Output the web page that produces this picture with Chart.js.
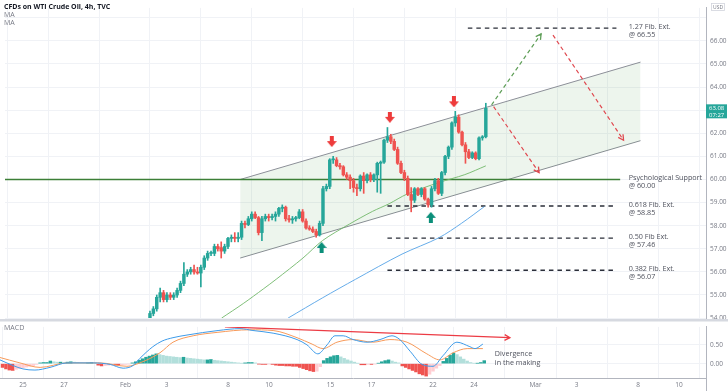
<!DOCTYPE html>
<html>
<head>
<meta charset="utf-8">
<script src="https://cdn.jsdelivr.net/npm/chart.js@4.4.0/dist/chart.umd.min.js"></script>
<style>
  html, body { margin: 0; padding: 0; background: #fff; }
  #wrap { position: relative; width: 728px; height: 391px; overflow: hidden; background: #fff; }
  #priceChart { position: absolute; left: 0; top: 0; }
  #macdChart { position: absolute; left: 0; top: 319px; }
</style>
</head>
<body>
<div id="wrap">
  <canvas id="priceChart" width="728" height="326"></canvas>
  <canvas id="macdChart" width="728" height="72"></canvas>
</div>
<script>
// ===== DATA =====
// x axis is counted in 4h bars, 6 bars per trading day, bar 0 = Jan 25
const barsPerDay = 6;
const dayTicks  = [0, 2, 5, 7, 10, 12, 15, 17, 20, 22, 25, 27, 30, 32];
const dayLabels = ['25', '27', 'Feb', '3', '8', '10', '15', '17', '22', '24', 'Mar', '3', '8', '10'];

const priceTicks = [54, 55, 56, 57, 58, 59, 60, 61, 62, 63, 64, 65, 66, 67];
const macdTicks = [0, 0.5];

// candles, first one is bar 36
const firstBar = 36;
const candleOpen = [53.9,54.2,54.4,54.9,55.1,54.8,55.0,54.9,55.0,55.2,55.5,55.9,56.0,56.1,56.0,55.95,56.2,56.6,56.8,56.8,
  57.1,57.05,56.9,57.1,57.45,57.5,57.45,57.5,58.1,58.05,58.3,58.5,58.35,57.7,58.3,58.4,58.35,58.4,58.5,58.75,
  58.8,58.3,58.25,58.3,58.35,58.6,58.2,57.9,57.85,57.75,57.6,58.1,59.6,59.7,60.85,60.85,60.6,60.55,60.2,60.1,
  59.95,59.65,59.6,60.15,59.95,60.2,60.0,60.2,60.7,60.75,61.7,61.85,61.65,61.3,60.7,60.3,60.05,59.35,59.1,59.6,
  59.35,59.6,59.15,58.9,59.6,59.95,59.4,60.3,61.0,61.4,62.45,62.7,62.05,61.5,61.2,60.95,61.15,60.9,61.8,61.85];
const candleHigh = [54.3,54.5,55.0,55.3,55.2,55.1,55.1,55.1,55.3,55.6,56.4,56.1,56.2,56.3,56.2,56.3,56.7,56.9,56.9,57.2,
  57.2,57.3,57.2,57.5,57.6,57.7,57.7,58.2,58.2,58.4,58.6,58.6,58.4,58.4,58.5,58.5,58.5,58.6,58.8,58.9,
  58.85,58.45,58.4,58.4,58.7,58.7,58.3,58.0,57.95,57.85,58.2,59.7,59.8,60.9,61.0,60.95,60.7,60.6,60.3,60.2,
  60.05,59.8,60.2,60.3,60.25,60.3,60.25,60.75,60.8,61.75,62.25,61.95,61.75,61.4,60.8,60.4,60.15,59.65,59.65,59.65,
  59.65,59.65,59.2,59.7,60.05,60.05,60.35,61.05,61.45,62.5,62.95,62.8,62.1,61.6,61.3,61.2,61.2,61.85,61.9,63.3];
const candleLow = [53.8,54.1,54.3,54.7,54.7,54.7,54.8,54.8,54.9,55.1,55.4,55.8,55.9,55.9,55.9,55.35,56.1,56.5,56.7,56.7,
  56.9,56.6,56.8,57.0,57.3,57.3,57.3,57.4,57.9,58.0,58.2,58.3,57.6,57.35,58.2,58.2,58.25,58.2,58.4,58.6,
  58.2,58.15,58.1,58.2,58.3,58.15,57.85,57.8,57.7,57.5,57.55,58.0,59.5,59.6,60.7,60.55,60.45,60.15,60.0,59.6,
  59.45,59.3,59.5,59.4,59.85,59.9,59.9,59.45,59.4,60.7,61.6,61.55,61.25,60.65,60.25,59.95,59.3,58.6,59.0,59.3,
  59.25,59.1,58.8,58.8,59.5,59.35,59.3,60.2,60.9,61.3,62.3,62.0,61.45,60.7,60.9,60.9,60.85,60.85,61.7,61.8];
const candleClose = [54.2,54.4,54.9,55.1,54.8,55.0,54.9,55.0,55.2,55.5,55.9,56.0,56.1,56.0,55.95,56.2,56.6,56.8,56.8,57.1,
  57.0,56.9,57.1,57.45,57.5,57.45,57.5,58.1,58.05,58.3,58.5,58.35,57.7,58.3,58.4,58.35,58.4,58.5,58.75,58.8,
  58.3,58.25,58.3,58.35,58.6,58.2,57.9,57.85,57.75,57.6,58.1,59.6,59.7,60.85,60.85,60.6,60.55,60.2,60.1,59.95,
  59.65,59.6,60.15,59.95,60.2,60.0,60.2,60.7,60.75,61.7,61.85,61.65,61.3,60.7,60.3,60.05,59.35,59.1,59.6,59.35,
  59.6,59.15,58.9,59.6,59.95,59.4,60.3,61.0,61.4,62.45,62.7,62.05,61.5,61.2,60.95,61.15,60.9,61.8,61.85,63.08];
const lastPrice = 63.08;
const countdown = '07:27';

// moving averages
const maGreenBar = [57.1, 63.5, 69.4, 73.2, 81.1, 86.9, 94.8, 101.6, 106.5, 111.8, 121.2, 128.8, 135];
const maGreenVal = [54.0, 54.63, 55.26, 55.68, 56.6, 57.36, 58.07, 58.62, 58.95, 59.37, 59.87, 60.21, 60.59];
const maBlueBar = [76.7, 86.9, 96.6, 110.3, 121.2, 127.9, 134.6];
const maBlueVal = [54.0, 54.88, 55.68, 56.77, 57.48, 58.11, 58.83];

// channel
const chanBar = [62.6, 180.6];
const chanUpper = [60.0, 65.08];
const chanLower = [56.6, 61.68];

// levels
const levelPrice = [66.55, 60.00, 58.85, 57.46, 56.07];
const levelStart = [129.7, -7, 106, 106, 106];
const levelEnd = [173.5, 174.6, 173.5, 173.5, 173.5];
const levelText1 = ['1.27 Fib. Ext.', 'Psychological Support', '0.618 Fib. Ext.', '0.50 Fib Ext.', '0.382 Fib. Ext.'];
const levelText2 = ['@ 66.55', '@ 60.00', '@ 58.85', '@ 57.46', '@ 56.07'];
const labelBar = 177.1;

// projected path
const upPathBar = [136.7, 151.3];
const upPathVal = [63.23, 66.3];
const downPathBar = [154.8, 175.6];
const downPathVal = [66.25, 61.7];
const dropPathBar = [137.3, 150.7];
const dropPathVal = [63.15, 60.3];

// swing markers
const topMarkBar = [89.6, 106.7, 125.6];
const topMarkVal = [61.64, 62.69, 63.36];
const bottomMarkBar = [86.6, 118.8];
const bottomMarkVal = [57.06, 58.36];

// MACD (12,26,9)
const histFirstBar = -6;
const histValues = [-0.10,-0.14,-0.17,-0.18,-0.15,-0.13,-0.11,-0.09,-0.07,-0.05,-0.02,0.02,0.03,0.03,0.07,0.05,0.04,0.04,0.03,0.04,
  0.05,0.04,0.03,0.02,0.01,0.02,0.03,0.01,-0.04,-0.06,-0.05,-0.04,-0.03,-0.04,-0.04,-0.03,-0.02,-0.01,0.02,0.05,
  0.09,0.13,0.17,0.20,0.23,0.26,0.24,0.22,0.20,0.19,0.18,0.17,0.16,0.17,0.15,0.14,0.13,0.12,0.11,0.10,
  0.10,0.11,0.09,0.08,0.07,0.06,0.05,0.04,0.03,0.02,0.01,0.02,0.03,0.03,0.02,-0.01,-0.02,-0.02,-0.01,-0.02,
  -0.04,-0.05,-0.05,-0.06,-0.06,-0.07,-0.07,-0.10,-0.13,-0.16,-0.19,-0.21,-0.20,-0.08,0.08,0.14,0.18,0.21,0.22,0.18,
  0.14,0.10,0.07,0.04,0.01,-0.03,-0.03,-0.02,-0.02,-0.01,0.01,0.05,0.08,0.10,0.07,0.04,0.02,-0.06,-0.10,-0.14,
  -0.18,-0.22,-0.27,-0.30,-0.33,-0.28,-0.20,-0.12,-0.05,0.06,0.14,0.22,0.28,0.24,0.18,0.12,0.07,0.03,0.01,0.01,
  0.03,0.08];
const macdBar = [-7,-2.9,0,3.5,7.9,12.9,20.5,25.5,29.3,32.2,34.2,38,40.7,43.9,48,57.1,63.5,67.3,73.2,80.2,83.1,86.3,89,91.3,
  93.7,96.6,100.7,104.5,108,110.3,113.3,116.8,120,122.9,127,130.8,132.3,134.6];
const macdVal = [0.11,-0.05,-0.14,-0.17,-0.10,0.02,0.02,-0.02,-0.12,-0.05,0.14,0.45,0.60,0.69,0.76,0.88,0.93,0.88,0.81,0.64,0.50,0.26,0.50,0.74,
  0.74,0.64,0.57,0.64,0.74,0.64,0.33,-0.02,-0.07,0.21,0.57,0.45,0.40,0.52];
const signalBar = [-7,-0.9,5,12.9,22.5,30.4,34.2,40.1,43.9,49.8,56.8,66.4,73.2,80.2,84.6,87.8,91.9,96.6,102.4,107.4,112.4,118.2,122,125.9,130,134.6];
const signalVal = [0.17,0.02,-0.10,0.02,0.02,-0.07,0.02,0.29,0.57,0.74,0.83,0.90,0.88,0.69,0.52,0.40,0.57,0.64,0.57,0.64,0.57,0.26,0.10,0.29,0.40,0.40];

const divergenceBar = [59.1, 142.5];
const divergenceVal = [0.976, 0.69];
const divergenceText = ['Divergence', 'in the making'];

// ===== STYLE =====
const FONT = '"Open Sans", "DejaVu Sans", sans-serif';
const gridColor = '#f0f2f6';
const axisColor = '#b2b5be';
const textGray = '#787b86';
const upColor = '#26a69a';
const downColor = '#ef5350';
const pxPerBar = 20.5 / barsPerDay;
const xMin = -23 / pxPerBar;
const xMax = 683 / pxPerBar;
const pxPerDollar = 23.833;

Chart.defaults.font.family = FONT;

function pts(xs, ys) {
  return xs.map((x, i) => ({x: x, y: ys[i]}));
}

function xAxis(showLabels) {
  return {
    type: 'linear', min: xMin, max: xMax, offset: false,
    afterBuildTicks: s => { s.ticks = dayTicks.map(d => ({value: d * barsPerDay})); },
    ticks: {
      display: showLabels, autoSkip: false, maxRotation: 0, padding: 3,
      color: textGray, font: {size: 6.5},
      callback: (v, i) => dayLabels[i]
    },
    grid: {color: gridColor, drawTicks: false},
    border: {display: showLabels, color: axisColor},
    afterFit: s => { s.height = showLabels ? 13 : 0; }
  };
}

function yAxis(min, max, tickValues, hideAbove) {
  return {
    position: 'right', min: min, max: max,
    afterBuildTicks: s => { s.ticks = tickValues.map(v => ({value: v})); },
    ticks: {
      color: textGray, font: {size: 6.5}, padding: 4,
      callback: v => v > hideAbove ? '' : v.toFixed(2)
    },
    grid: {color: gridColor, drawTicks: false},
    border: {color: axisColor},
    afterFit: s => { s.width = 22; }
  };
}

function blockArrow(color, down) {
  const c = document.createElement('canvas');
  c.width = 10; c.height = 11;
  const g = c.getContext('2d');
  g.fillStyle = color;
  g.beginPath();
  if (down) {
    g.moveTo(3, 0); g.lineTo(7, 0); g.lineTo(7, 5); g.lineTo(10, 5);
    g.lineTo(5, 11); g.lineTo(0, 5); g.lineTo(3, 5);
  } else {
    g.moveTo(5, 0); g.lineTo(10, 6); g.lineTo(7, 6); g.lineTo(7, 11);
    g.lineTo(3, 11); g.lineTo(3, 6); g.lineTo(0, 6);
  }
  g.closePath();
  g.fill();
  return c;
}

function candleColor(i) {
  return candleClose[i] >= candleOpen[i] ? upColor : downColor;
}

function histColor(i) {
  const v = histValues[i];
  const prev = i > 0 ? histValues[i - 1] : v;
  if (v >= 0) return v >= prev ? '#26a69a' : '#b2dfdb';
  return v <= prev ? '#ef5350' : '#ffcdd2';
}

// open chevron at the end of lines flagged with arrowHead
const arrowHeads = {
  id: 'arrowHeads',
  afterDatasetsDraw(chart) {
    const ctx = chart.ctx;
    chart.data.datasets.forEach((ds, i) => {
      if (!ds.arrowHead) return;
      const p = chart.getDatasetMeta(i).data;
      const a = p[p.length - 2], b = p[p.length - 1];
      const ang = Math.atan2(b.y - a.y, b.x - a.x);
      const len = 6;
      ctx.save();
      ctx.strokeStyle = ds.borderColor;
      ctx.lineWidth = 1.3;
      ctx.setLineDash([]);
      ctx.beginPath();
      ctx.moveTo(b.x - len * Math.cos(ang - 0.5), b.y - len * Math.sin(ang - 0.5));
      ctx.lineTo(b.x, b.y);
      ctx.lineTo(b.x - len * Math.cos(ang + 0.5), b.y - len * Math.sin(ang + 0.5));
      ctx.stroke();
      ctx.restore();
    });
  }
};

// ===== PRICE PANEL =====
const priceText = {
  id: 'priceText',
  afterDraw(chart) {
    const ctx = chart.ctx;
    const xs = chart.scales.x, ys = chart.scales.y;
    ctx.save();
    ctx.textBaseline = 'middle';
    ctx.textAlign = 'left';
    ctx.fillStyle = '#131722';
    ctx.font = 'bold 7px ' + FONT;
    ctx.fillText('CFDs on WTI Crude Oil, 4h, TVC', 4, 7);
    ctx.fillStyle = textGray;
    ctx.font = '7px ' + FONT;
    ctx.fillText('MA', 4, 15);
    ctx.fillText('MA', 4, 23);

    ctx.fillStyle = '#50535e';
    ctx.font = '7.2px ' + FONT;
    const lx = xs.getPixelForValue(labelBar);
    levelPrice.forEach((p, i) => {
      const y = ys.getPixelForValue(p);
      ctx.fillText(levelText1[i], lx, y - 1.5);
      ctx.fillText(levelText2[i], lx, y + 6.5);
    });

    // last price tag
    const py = ys.getPixelForValue(lastPrice);
    ctx.fillStyle = upColor;
    ctx.fillRect(706, py - 4, 21, 14);
    ctx.fillStyle = '#fff';
    ctx.font = '6px ' + FONT;
    ctx.fillText(lastPrice.toFixed(2), 709, py);
    ctx.fillText(countdown, 709, py + 6.5);

    // currency tag
    ctx.fillStyle = '#fff';
    ctx.fillRect(711, 3, 14, 8);
    ctx.strokeStyle = '#d1d4dc';
    ctx.lineWidth = 0.8;
    ctx.strokeRect(711.5, 3.5, 13, 7);
    ctx.fillStyle = textGray;
    ctx.font = '5px ' + FONT;
    ctx.fillText('USD', 713, 7.3);
    ctx.restore();
  }
};

const priceDatasets = [
  {type: 'line', data: pts(chanBar, chanUpper), borderColor: '#8c8f98', borderWidth: 1, pointRadius: 0,
   fill: '+1', backgroundColor: 'rgba(56,142,60,0.09)', order: 20},
  {type: 'line', data: pts(chanBar, chanLower), borderColor: '#8c8f98', borderWidth: 1, pointRadius: 0, fill: false, order: 20}
];
levelPrice.forEach((p, i) => {
  const psych = i === 1;
  priceDatasets.push({
    type: 'line', data: [{x: levelStart[i], y: p}, {x: levelEnd[i], y: p}],
    borderColor: psych ? '#3c7f37' : '#2a2e39', borderWidth: psych ? 1.3 : 1.4,
    borderDash: psych ? [] : [4.5, 4], pointRadius: 0, fill: false, order: 15
  });
});
priceDatasets.push(
  {type: 'line', data: pts(maGreenBar, maGreenVal), borderColor: '#72b86a', borderWidth: 0.9,
   pointRadius: 0, tension: 0.3, fill: false, order: 12},
  {type: 'line', data: pts(maBlueBar, maBlueVal), borderColor: '#55a3e6', borderWidth: 0.9,
   pointRadius: 0, tension: 0.3, fill: false, order: 12},
  {type: 'bar', grouped: false, barThickness: 1, order: 6,
   data: candleHigh.map((h, i) => ({x: firstBar + i, y: [candleLow[i], h]})),
   backgroundColor: c => candleColor(c.dataIndex)},
  {type: 'bar', grouped: false, barThickness: 2.8, minBarLength: 1, order: 5,
   data: candleOpen.map((o, i) => ({x: firstBar + i, y: [o, candleClose[i]]})),
   backgroundColor: c => candleColor(c.dataIndex)},
  {type: 'line', data: pts(upPathBar, upPathVal), borderColor: '#5e9e57', borderWidth: 1.2,
   borderDash: [4, 3], pointRadius: 0, fill: false, arrowHead: true, order: 2},
  {type: 'line', data: pts(downPathBar, downPathVal), borderColor: '#e0484f', borderWidth: 1.2,
   borderDash: [4, 3], pointRadius: 0, fill: false, arrowHead: true, order: 2},
  {type: 'line', data: pts(dropPathBar, dropPathVal), borderColor: '#e0484f', borderWidth: 1.2,
   borderDash: [4, 3], pointRadius: 0, fill: false, arrowHead: true, order: 2},
  {type: 'line', data: pts(topMarkBar, topMarkVal), showLine: false,
   pointStyle: blockArrow('#ee3b3b', true), order: 1},
  {type: 'line', data: pts(bottomMarkBar, bottomMarkVal), showLine: false,
   pointStyle: blockArrow('#0b8f7a', false), order: 1}
);

new Chart(document.getElementById('priceChart'), {
  type: 'line',
  data: {datasets: priceDatasets},
  options: {
    responsive: false, animation: false, devicePixelRatio: 1, events: [],
    layout: {padding: {top: 0, right: 0, bottom: 6, left: 0}},
    plugins: {legend: {display: false}, tooltip: {enabled: false}},
    scales: {
      x: xAxis(false),
      y: yAxis(54, 54 + 320 / pxPerDollar, priceTicks, 66.5)
    }
  },
  plugins: [arrowHeads, priceText]
});

// ===== MACD PANEL =====
const macdText = {
  id: 'macdText',
  beforeDraw(chart) {
    const ctx = chart.ctx;
    ctx.save();
    ctx.fillStyle = '#d6d9e0';
    ctx.fillRect(0, 0, 728, 2.5);
    ctx.restore();
  },
  afterDraw(chart) {
    const ctx = chart.ctx;
    const xs = chart.scales.x, ys = chart.scales.y;
    ctx.save();
    ctx.textBaseline = 'middle';
    ctx.textAlign = 'left';
    ctx.fillStyle = textGray;
    ctx.font = '7px ' + FONT;
    ctx.fillText('MACD', 4, 9);
    ctx.fillStyle = '#50535e';
    ctx.font = '7.2px ' + FONT;
    const tx = xs.getPixelForValue(138.1);
    const ty = ys.getPixelForValue(0.26);
    ctx.fillText(divergenceText[0], tx, ty);
    ctx.fillText(divergenceText[1], tx, ty + 9);
    // right axis line carried down through the date row
    ctx.strokeStyle = axisColor;
    ctx.lineWidth = 1;
    ctx.beginPath();
    ctx.moveTo(706.5, chart.chartArea.bottom);
    ctx.lineTo(706.5, 72);
    ctx.stroke();
    ctx.restore();
  }
};

new Chart(document.getElementById('macdChart'), {
  type: 'line',
  data: {
    datasets: [
      {type: 'line', data: pts(divergenceBar, divergenceVal), borderColor: '#ec3b44', borderWidth: 1.3,
       pointRadius: 0, fill: false, arrowHead: true, order: 1},
      {type: 'line', data: pts(macdBar, macdVal), borderColor: '#3d9be9', borderWidth: 1,
       pointRadius: 0, cubicInterpolationMode: 'monotone', fill: false, order: 2},
      {type: 'line', data: pts(signalBar, signalVal), borderColor: '#f79a5a', borderWidth: 1,
       pointRadius: 0, cubicInterpolationMode: 'monotone', fill: false, order: 3},
      {type: 'bar', grouped: false, barThickness: 2.8, order: 5,
       data: histValues.map((v, i) => ({x: histFirstBar + i, y: v})),
       backgroundColor: c => histColor(c.dataIndex)}
    ]
  },
  options: {
    responsive: false, animation: false, devicePixelRatio: 1, events: [],
    layout: {padding: {top: 2, right: 0, bottom: 0, left: 0}},
    plugins: {legend: {display: false}, tooltip: {enabled: false}},
    scales: {
      x: xAxis(true),
      y: yAxis(-16 / 42, 41 / 42, macdTicks, 1)
    }
  },
  plugins: [arrowHeads, macdText]
});
</script>
</body>
</html>
